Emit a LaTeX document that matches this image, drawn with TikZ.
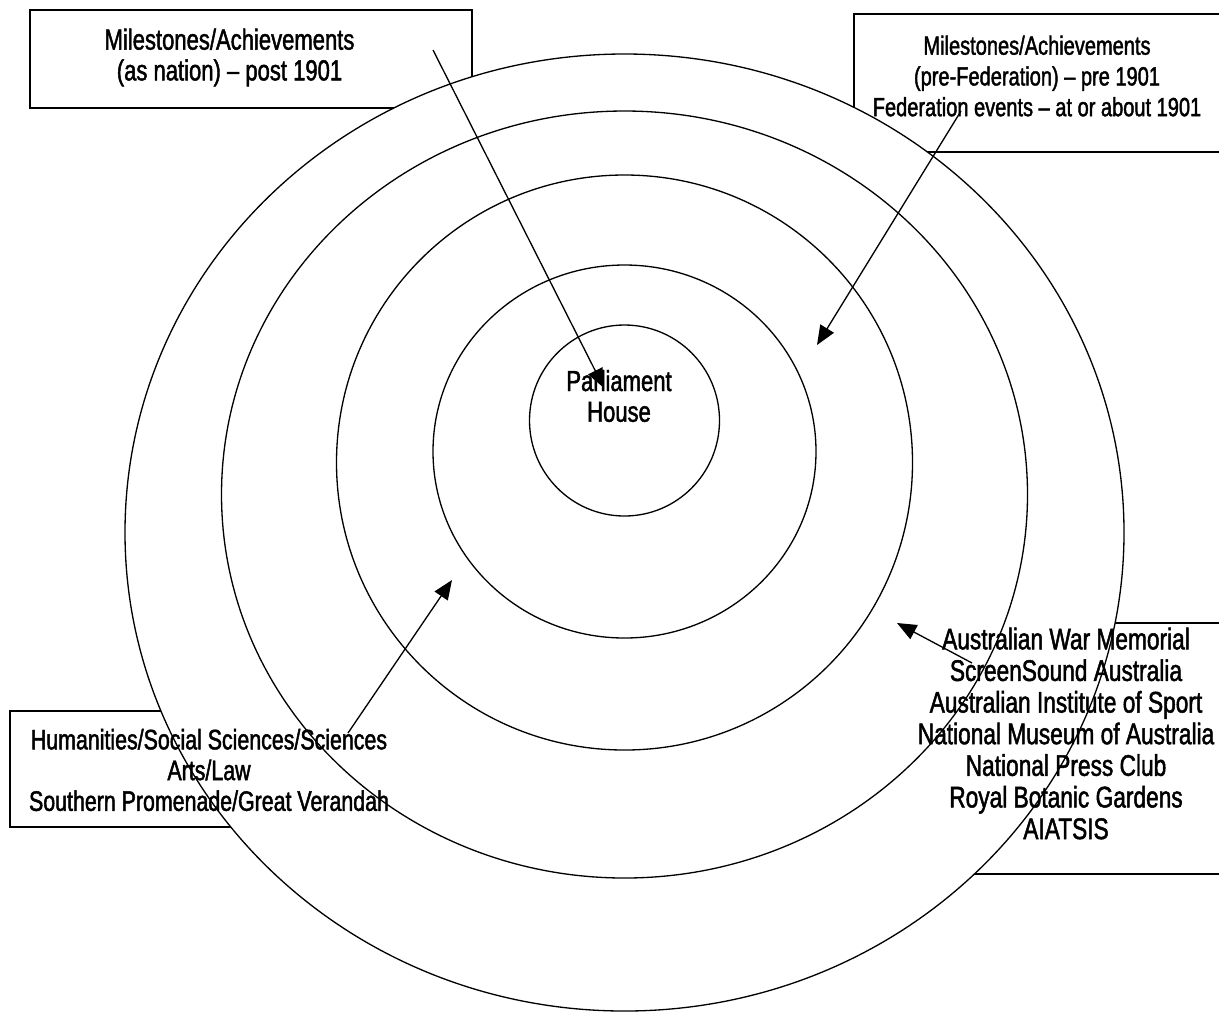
\documentclass[tikz,border=0pt]{standalone}
\usepackage{fontspec}
\newfontfamily\lblfont[FakeStretch=0.76,FakeBold=1.6]{Liberation Sans}
\usetikzlibrary{arrows.meta}

\begin{document}
\begin{tikzpicture}[x=0.02cm,y=-0.02cm,line width=0.75pt,
	txt/.style={font=\lblfont\fontsize{#1}{17.5}\selectfont,align=center,inner sep=0pt},
	txt/.default=16.5,
	ring/.style={draw,fill=white},
	pointer/.style={-{Triangle[length=11pt,width=9pt]}}]
	\useasboundingbox (0,0) rectangle (1219,1012);
	\draw (30,10) rectangle (472,108);
	\draw (854,14) rectangle (1240,152);
	\draw (10,711) rectangle (400,827);
	\draw (900,623) rectangle (1240,874);
	\foreach \cy/\rx/\ry in {532.5/499.5/478.5,494.5/403/383.5,462.5/288/287.5,451.5/191.5/186.5,420.5/95/95.5}
		\draw[ring] (624.5,\cy) ellipse [x radius=\rx,y radius=\ry];
	\node[txt] (post) at (229.5,57.5) {Milestones/Achievements\\(as nation) – post 1901};
	\node[txt=15] (pre) at (1037,76) {Milestones/Achievements\\(pre-Federation) – pre 1901\\Federation events – at or about 1901};
	\node[txt=16] (hum) at (209,770) {Humanities/Social Sciences/Sciences\\Arts/Law\\Southern Promenade/Great Verandah};
	\node[txt=17,font=\lblfont\fontsize{17}{18}\selectfont] (inst) at (1066,733.5) {Australian War Memorial\\ScreenSound Australia\\Australian Institute of Sport\\National Museum of Australia\\National Press Club\\Royal Botanic Gardens\\AIATSIS};
	\node[txt] (parl) at (619,396) {Parliament\\House};
	\coordinate (postTail) at (433,50);
	\coordinate (postTip) at (604,388);
	\coordinate (preTail) at (961,111);
	\coordinate (preTip) at (817,345);
	\coordinate (humTail) at (348,733);
	\coordinate (humTip) at (452,580);
	\coordinate (instTail) at (972,663);
	\coordinate (instTip) at (897,623);
	\draw[pointer] (postTail) -- (postTip);
	\draw[pointer] (preTail) -- (preTip);
	\draw[pointer] (humTail) -- (humTip);
	\draw[pointer] (instTail) -- (instTip);
\end{tikzpicture}
\end{document}
